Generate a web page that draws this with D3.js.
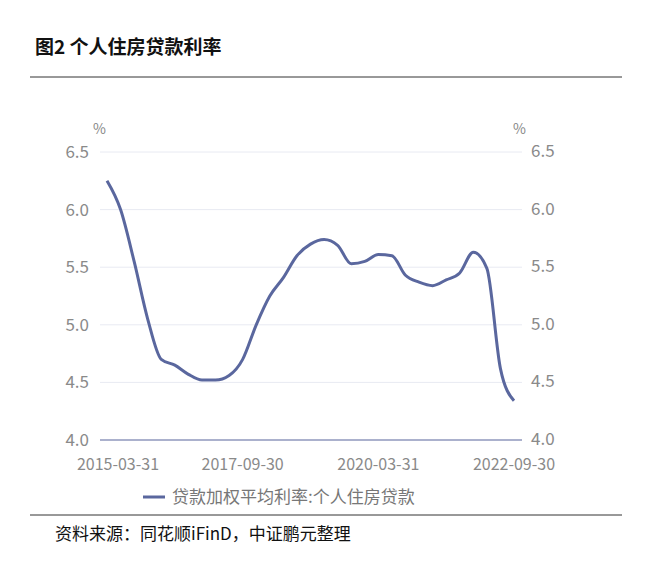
<!DOCTYPE html><html><head><meta charset="utf-8"><script src="https://cdn.jsdelivr.net/npm/d3@7"></script>
<style>body{margin:0;background:#fff}text{font-family:"Noto Sans CJK SC","Noto Sans",sans-serif}</style></head><body><svg width="666" height="572"></svg><script>
const quarters=["2015-03-31","2015-06-30","2015-09-30","2015-12-31","2016-03-31","2016-06-30","2016-09-30","2016-12-31","2017-03-31","2017-06-30","2017-09-30","2017-12-31","2018-03-31","2018-06-30","2018-09-30","2018-12-31","2019-03-31","2019-06-30","2019-09-30","2019-12-31","2020-03-31","2020-06-30","2020-09-30","2020-12-31","2021-03-31","2021-06-30","2021-09-30","2021-12-31","2022-03-31","2022-06-30","2022-09-30"];
const rates=[6.25,6.0,5.55,5.05,4.70,4.65,4.57,4.52,4.52,4.56,4.70,5.0,5.25,5.41,5.60,5.70,5.74,5.69,5.53,5.55,5.61,5.60,5.43,5.37,5.34,5.39,5.45,5.63,5.49,4.62,4.34];
const yTicks=[4.0,4.5,5.0,5.5,6.0,6.5];
const xTickLabels=["2015-03-31","2017-09-30","2020-03-31","2022-09-30"];
const svg=d3.select("svg");
svg.append("text").attr("x",35).attr("y",54).attr("font-size",19).attr("font-weight","bold").attr("fill","#111").text("图2  个人住房贷款利率");
svg.append("line").attr("x1",30).attr("x2",622).attr("y1",77).attr("y2",77).attr("stroke","#333");
svg.append("line").attr("x1",30).attr("x2",622).attr("y1",515).attr("y2",515).attr("stroke","#333");
svg.append("text").attr("x",55).attr("y",540).attr("font-size",17).attr("fill","#111").text("资料来源：同花顺iFinD，中证鹏元整理");
const x=d3.scalePoint().domain(quarters).range([107,514]);
const y=d3.scaleLinear().domain([4,6.5]).range([440,152]);
const g=svg.append("g");
yTicks.forEach(t=>{
 g.append("line").attr("x1",100).attr("x2",522).attr("y1",y(t)).attr("y2",y(t)).attr("stroke",t===4?"#8f97bd":"#e8eaf2").attr("stroke-width",t===4?1.5:1);
 g.append("text").attr("x",89).attr("y",y(t)+6).attr("text-anchor","end").attr("font-size",17).attr("fill","#8a8a8a").attr("font-family","Liberation Sans").text(t.toFixed(1));
 g.append("text").attr("x",531).attr("y",y(t)+5).attr("font-size",17).attr("fill","#8a8a8a").attr("font-family","Liberation Sans").text(t.toFixed(1));
});
g.append("text").attr("x",93).attr("y",134).attr("font-size",14).attr("fill","#888").text("%");
g.append("text").attr("x",513).attr("y",134).attr("font-size",14).attr("fill","#888").text("%");
xTickLabels.forEach(l=>{
 g.append("text").attr("x",x(l)+(l===quarters[0]?11:0)).attr("y",470).attr("text-anchor","middle").attr("font-size",16).attr("fill","#8a8a8a").attr("font-family","Liberation Sans").text(l);
});
g.append("path").datum(rates).attr("fill","none").attr("stroke","#5a679e").attr("stroke-width",3)
 .attr("d",d3.line().x((d,i)=>x(quarters[i])).y(d=>y(d)).curve(d3.curveMonotoneX));
svg.append("line").attr("x1",143).attr("x2",165).attr("y1",497).attr("y2",497).attr("stroke","#5a679e").attr("stroke-width",3);
svg.append("text").attr("x",172).attr("y",503).attr("font-size",17).attr("fill","#777").text("贷款加权平均利率:个人住房贷款");
</script></body></html>
